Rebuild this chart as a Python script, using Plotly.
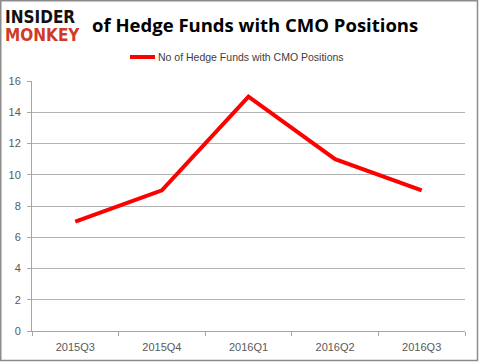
import plotly.graph_objects as go

quarters = ["2015Q3", "2015Q4", "2016Q1", "2016Q2", "2016Q3"]
hedge_funds = [7, 9, 15, 11, 9]
series_name = "No of Hedge Funds with CMO Positions"
title_text = "of Hedge Funds with CMO Positions"

W, H = 479, 362
L, R, T, B = 32, 14, 81, 31

fig = go.Figure()
fig.add_trace(go.Scatter(
    x=quarters, y=hedge_funds, mode="lines",
    line=dict(color="#ff0000", width=4),
    name=series_name, showlegend=False,
))

tick_font = dict(family="Liberation Sans, Arial, sans-serif", size=11, color="#595959")

fig.update_layout(
    width=W, height=H,
    margin=dict(l=L, r=R, t=T, b=B, autoexpand=False),
    paper_bgcolor="white", plot_bgcolor="white",
    xaxis=dict(
        type="category", tickson="boundaries", ticks="outside", ticklen=4,
        tickcolor="#a6a6a6", showline=True, linecolor="#a6a6a6", linewidth=1,
        showgrid=False, tickfont=tick_font, range=[-0.5, 4.5], fixedrange=True,
        ticklabelstandoff=6, automargin=False,
    ),
    yaxis=dict(
        range=[0, 16], dtick=2, showgrid=True, gridcolor="#b3b3b3", gridwidth=1,
        showline=True, linecolor="#a6a6a6", ticks="outside", ticklen=4,
        tickcolor="#a6a6a6", tickfont=tick_font, zeroline=False,
        ticklabelstandoff=4, automargin=False,
    ),
    showlegend=False,
)

def px_x(x):
    return (x - L) / (W - L - R)

def px_y(y):
    return (H - B - y) / (H - T - B)

# outer border
fig.add_shape(type="rect", xref="paper", yref="paper",
              x0=px_x(0.75), x1=px_x(477.5), y0=px_y(360.5), y1=px_y(0.75),
              line=dict(color="#8c8c8c", width=1.5))

# title
fig.add_annotation(xref="paper", yref="paper", x=px_x(90), y=px_y(24),
                   xanchor="left", yanchor="middle", showarrow=False,
                   text="<b>" + title_text + "</b>",
                   font=dict(family="Open Sans, Liberation Sans, sans-serif", size=18.5, color="#000000"))

# legend
fig.add_shape(type="line", xref="paper", yref="paper",
              x0=px_x(130), x1=px_x(155), y0=px_y(57), y1=px_y(57),
              line=dict(color="#ff0000", width=4))
fig.add_annotation(xref="paper", yref="paper", x=px_x(156), y=px_y(57),
                   xanchor="left", yanchor="middle", showarrow=False,
                   text=series_name,
                   font=dict(family="Liberation Sans, Arial, sans-serif", size=10.5, color="#404040"))

# logo
fig.add_annotation(xref="paper", yref="paper", x=px_x(3), y=px_y(17),
                   xanchor="left", yanchor="middle", showarrow=False,
                   text="<b>INSIDER</b>",
                   font=dict(family="DejaVu Sans Condensed, DejaVu Sans, sans-serif", size=17, color="#111111"))
fig.add_annotation(xref="paper", yref="paper", x=px_x(3), y=px_y(35),
                   xanchor="left", yanchor="middle", showarrow=False,
                   text="<b>MONKEY</b>",
                   font=dict(family="DejaVu Sans Condensed, DejaVu Sans, sans-serif", size=17, color="#d03a2a"))

fig.write_html("out.html", config={"displayModeBar": False},
               post_script="document.body.style.margin='0';")
